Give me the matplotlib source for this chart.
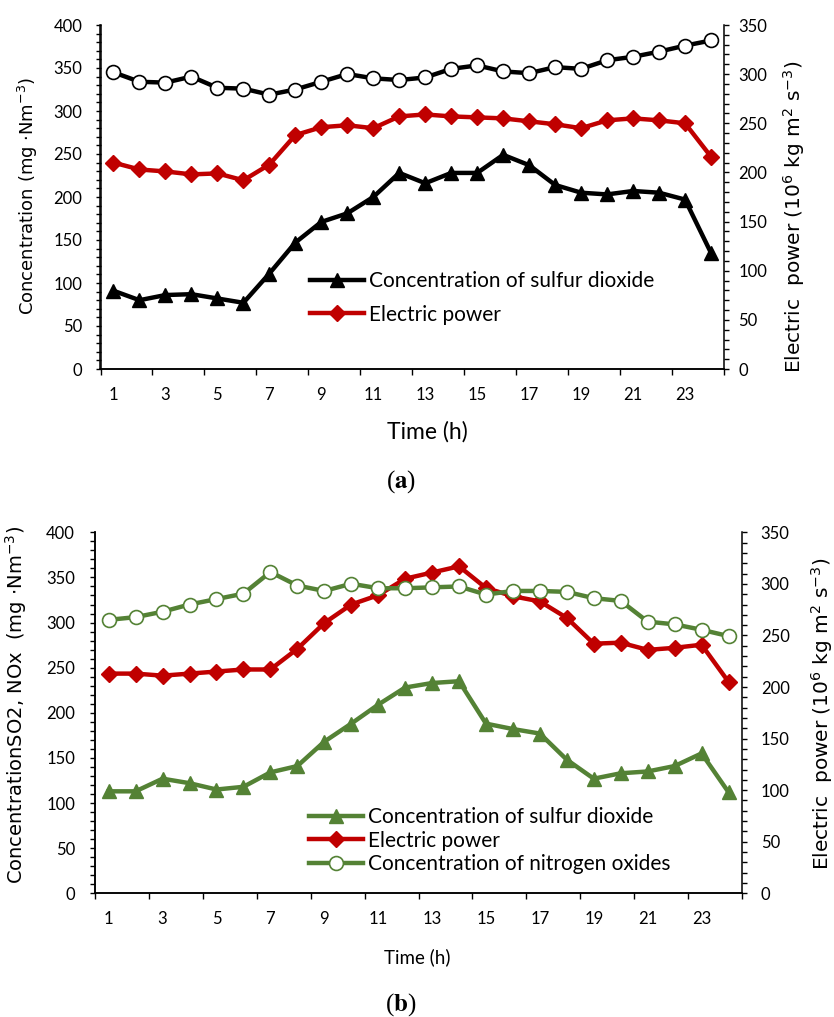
import matplotlib
matplotlib.use('Agg')
import matplotlib.pyplot as plt
from matplotlib.ticker import MultipleLocator, NullFormatter

# hours of the day, labels every second hour
hours = list(range(1, 25))
hour_ticks = list(range(1, 24, 2))
hour_labels = [str(h) for h in hour_ticks]

# (a) left axis: concentrations (mg Nm-3), right axis: electric power
so2_a = [91, 80, 86, 87, 82, 77, 111, 147, 171, 181, 200, 228,
         216, 228, 228, 249, 237, 214, 205, 203, 207, 205, 197, 135]
nox_a = [345, 334, 333, 340, 327, 326, 319, 325, 334, 343, 338, 336,
         339, 349, 353, 346, 344, 351, 349, 359, 363, 369, 376, 382]
power_a = [210, 203, 201, 198, 199, 192, 208, 238, 246, 248, 245, 257,
           259, 257, 256, 255, 252, 249, 245, 253, 255, 253, 250, 216]

# (b)
so2_b = [113, 113, 127, 122, 115, 118, 134, 141, 168, 188, 209, 228,
         233, 235, 188, 182, 177, 148, 127, 133, 135, 141, 155, 112]
nox_b = [303, 306, 312, 320, 326, 332, 356, 341, 335, 343, 338, 338,
         339, 340, 331, 335, 335, 334, 327, 324, 301, 298, 292, 285]
power_b = [213, 213, 211, 213, 215, 217, 217, 237, 262, 280, 289, 305,
           311, 317, 296, 288, 283, 267, 242, 243, 236, 238, 241, 205]

RED = '#C00000'
GREEN = '#548235'
W, H = 834, 1017
TICKFONT = 'Lato'

fig = plt.figure(figsize=(W / 100, H / 100), dpi=100)


def box(x0, y0, x1, y1):
    # pixel box (top-left origin) -> figure fraction
    return [x0 / W, 1 - y1 / H, (x1 - x0) / W, (y1 - y0) / H]


def setup(ax, ax2, lpad, rpad):
    ax.set_xlim(0.5, 24.5)
    ax.set_ylim(0, 400)
    ax2.set_ylim(0, 350)
    ax.set_xticks([0.5 + 2 * i for i in range(13)])
    ax.xaxis.set_major_formatter(NullFormatter())
    ax.set_xticks(hour_ticks, labels=hour_labels, minor=True)
    ax.tick_params(axis='x', which='major', direction='out', length=4.5, width=1)
    ax.tick_params(axis='x', which='minor', length=0, pad=13)
    for a in (ax, ax2):
        a.yaxis.set_major_locator(MultipleLocator(50))
        a.yaxis.set_minor_locator(MultipleLocator(10))
    ax.tick_params(axis='y', which='both', direction='out', length=3.5, width=1, pad=lpad)
    ax2.tick_params(axis='y', which='both', direction='out', length=3.5, width=1, pad=rpad)
    for a in (ax, ax2):
        a.spines['top'].set_visible(False)
        for s in ('left', 'right', 'bottom'):
            a.spines[s].set_linewidth(1.1)
        for lab in a.get_xticklabels(minor=True) + a.get_yticklabels():
            lab.set_fontfamily(TICKFONT)
            lab.set_fontsize(12)
    ax.spines['right'].set_visible(False)
    ax2.xaxis.set_visible(False)
    # left-axis series drawn above the right-axis series
    ax.set_zorder(ax2.get_zorder() + 1)
    ax.patch.set_visible(False)


# ---- (a) ----
ax = fig.add_axes(box(100.5, 25, 724, 369))
ax2 = ax.twinx()
setup(ax, ax2, 9.5, 7)

ax.plot(hours, nox_a, color='black', lw=3.2, marker='o', ms=10,
        mfc='white', mec='black', mew=1.2)
l_so2, = ax.plot(hours, so2_a, color='black', lw=3.2, marker='^', ms=10,
                 mfc='black', mec='black',
                 label='Concentration of sulfur dioxide')
l_pow, = ax2.plot(hours, power_a, color=RED, lw=3.2, marker='D', ms=8,
                  mfc=RED, mec=RED, label='Electric power')

ax.legend(handles=[l_so2, l_pow], loc='upper left',
          bbox_to_anchor=(310 / W, 1 - 271 / H), bbox_transform=fig.transFigure,
          frameon=False, prop={'family': TICKFONT, 'size': 15}, handlelength=2.6,
          handletextpad=0.25, labelspacing=0.66, borderpad=0, borderaxespad=0)

fig.text(28 / W, 1 - 196 / H, r'Concentration (mg $\cdot$Nm$^{-3}$)', rotation=90,
         ha='center', va='center', fontsize=13, family='DejaVu Sans')
fig.text(794 / W, 1 - 217 / H, r'Electric  power (10$^6$ kg m$^2$ s$^{-3}$)', rotation=90,
         ha='center', va='center', fontsize=14.5, family='DejaVu Sans')
fig.text(427 / W, 1 - 432 / H, 'Time (h)', ha='center', va='center',
         fontsize=16.5, family=TICKFONT)
fig.text(401 / W, 1 - 482 / H, r'($\mathbf{a}$)', ha='center', va='center',
         fontsize=18, family='Liberation Serif', math_fontfamily='stix')

# ---- (b) ----
bx = fig.add_axes(box(95.2, 532.3, 742, 893.3))
bx2 = bx.twinx()
setup(bx, bx2, 11, 10)

l_so2b, = bx.plot(hours, so2_b, color=GREEN, lw=3.2, marker='^', ms=10,
                  mfc=GREEN, mec=GREEN, label='Concentration of sulfur dioxide')
l_noxb, = bx.plot(hours, nox_b, color=GREEN, lw=3.2, marker='o', ms=10,
                  mfc='white', mec=GREEN, mew=1.2,
                  label='Concentration of nitrogen oxides')
l_powb, = bx2.plot(hours, power_b, color=RED, lw=3.2, marker='D', ms=8,
                   mfc=RED, mec=RED, label='Electric power')

bx.legend(handles=[l_so2b, l_powb, l_noxb], loc='upper left',
          bbox_to_anchor=(309 / W, 1 - 807 / H), bbox_transform=fig.transFigure,
          frameon=False, prop={'family': TICKFONT, 'size': 15}, handlelength=2.6,
          handletextpad=0.25, labelspacing=0.18, borderpad=0, borderaxespad=0)

fig.text(16 / W, 1 - 705 / H, r'ConcentrationSO2, NOx  (mg $\cdot$Nm$^{-3}$)', rotation=90,
         ha='center', va='center', fontsize=14, family='DejaVu Sans')
fig.text(822 / W, 1 - 714 / H, r'Electric  power (10$^6$ kg m$^2$ s$^{-3}$)', rotation=90,
         ha='center', va='center', fontsize=14.5, family='DejaVu Sans')
fig.text(417 / W, 1 - 957 / H, 'Time (h)', ha='center', va='center',
         fontsize=13.5, family=TICKFONT)
fig.text(401 / W, 1 - 1005 / H, r'($\mathbf{b}$)', ha='center', va='center',
         fontsize=18, family='Liberation Serif', math_fontfamily='stix')

fig.savefig('out.png', dpi=100)
